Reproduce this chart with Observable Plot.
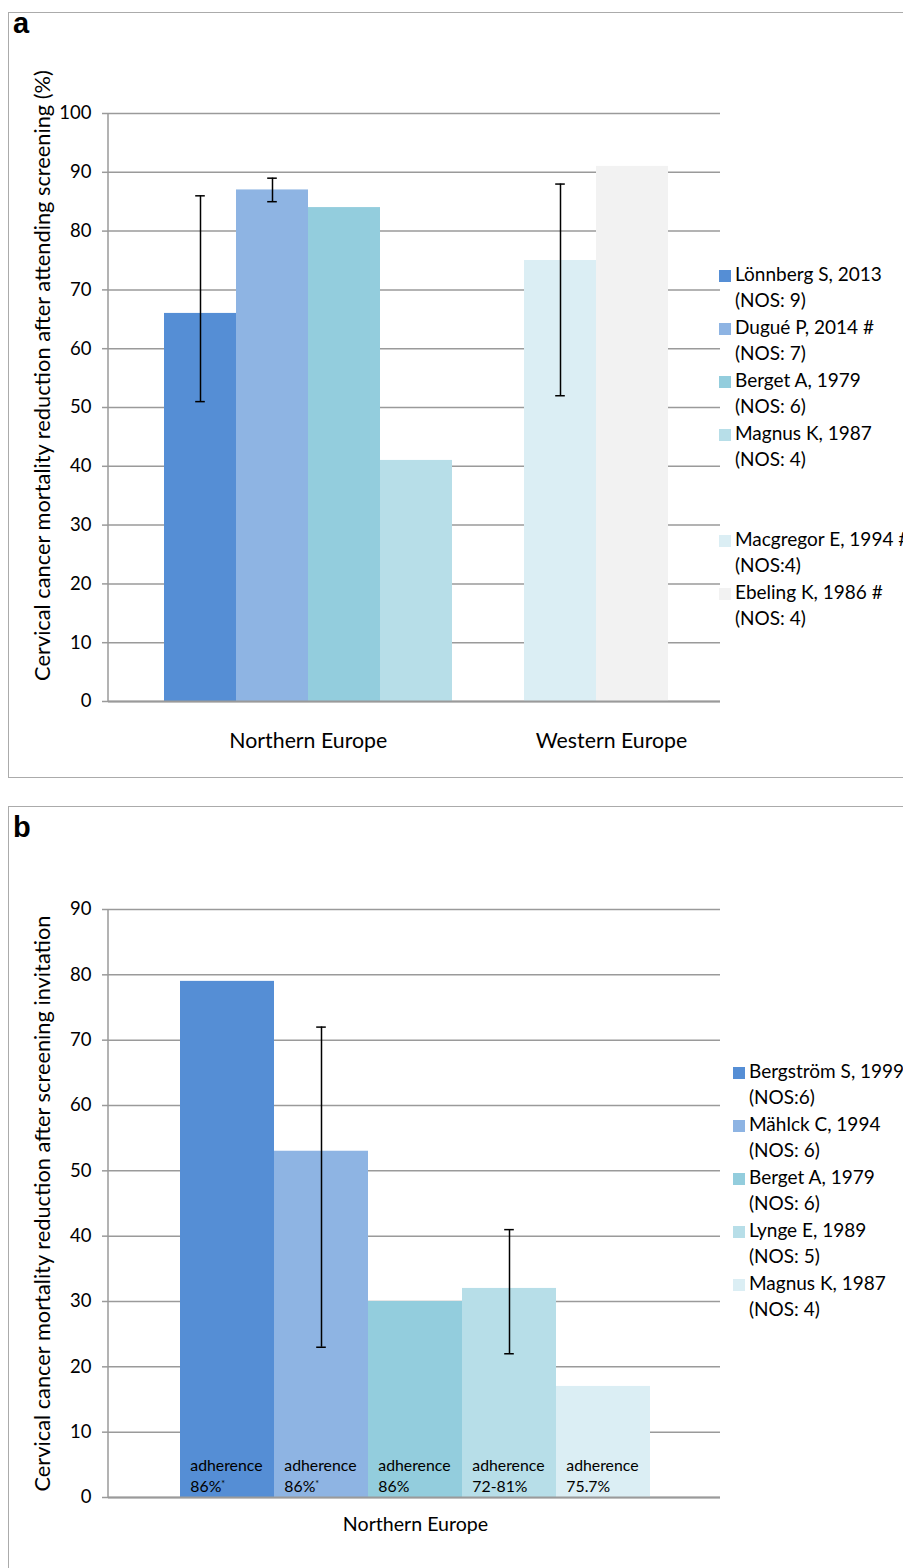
<!DOCTYPE html>
<html>
<head>
<meta charset="utf-8">
<script src="https://cdn.jsdelivr.net/npm/d3@7"></script>
<script src="https://cdn.jsdelivr.net/npm/@observablehq/plot@0.6"></script>
<style>
  body { margin: 0; background: #fff; font-family: Lato, "Open Sans", sans-serif; color: #000; }
  #page { position: relative; width: 903px; height: 1568px; overflow: hidden; background: #fff; }
  .panel { position: absolute; left: 8px; width: 1000px; border: 1px solid #ababab; box-sizing: border-box; }
  .tag { position: absolute; left: 13px; font: bold 29px "Liberation Sans", Arial, sans-serif; line-height: 29px; }
  .chart { position: absolute; left: 0; }
  .legend { position: absolute; font-size: 19px; line-height: 26.5px; white-space: nowrap; }
  .legend .item { position: relative; padding-left: 16px; height: 53px; }
  .legend .sw { position: absolute; left: 0; top: 9px; width: 12px; height: 12px; }
</style>
</head>
<body>
<div id="page">
  <div class="panel" style="top:12px;height:766px"></div>
  <div class="tag" style="top:8.5px">a</div>
  <div class="panel" style="top:806px;height:800px"></div>
  <div class="tag" style="top:812.5px">b</div>
</div>
<script>
// ---------- Panel a data ----------
const studiesA = ["Lönnberg S, 2013", "Dugué P, 2014 #", "Berget A, 1979", "Magnus K, 1987", "Macgregor E, 1994 #", "Ebeling K, 1986 #"];
const nosA = ["(NOS: 9)", "(NOS: 7)", "(NOS: 6)", "(NOS: 4)", "(NOS:4)", "(NOS: 4)"];
const regionA = ["Northern Europe", "Northern Europe", "Northern Europe", "Northern Europe", "Western Europe", "Western Europe"];
const valuesA = [66, 87, 84, 41, 75, 91];
const lowA = [51, 85, null, null, 52, null];
const highA = [86, 89, null, null, 88, null];
const colorsA = ["#558ED5", "#8EB4E3", "#93CDDD", "#B7DEE8", "#DBEEF4", "#F2F2F2"];
const ticksA = [0, 10, 20, 30, 40, 50, 60, 70, 80, 90, 100];
const regionsA = ["Northern Europe", "Western Europe"];
const titleA = "Cervical cancer mortality reduction after attending screening (%)";

// ---------- Panel b data ----------
const studiesB = ["Bergström S, 1999", "Mählck C, 1994", "Berget A, 1979", "Lynge E, 1989", "Magnus K, 1987"];
const nosB = ["(NOS:6)", "(NOS: 6)", "(NOS: 6)", "(NOS: 5)", "(NOS: 4)"];
const valuesB = [79, 53, 30, 32, 17];
const lowB = [null, 23, null, 22, null];
const highB = [null, 72, null, 41, null];
const adherenceB = ["86%", "86%", "86%", "72-81%", "75.7%"];
const starB = [true, true, false, false, false];
const colorsB = ["#558ED5", "#8EB4E3", "#93CDDD", "#B7DEE8", "#DBEEF4"];
const ticksB = [0, 10, 20, 30, 40, 50, 60, 70, 80, 90];
const regionB = "Northern Europe";
const titleB = "Cervical cancer mortality reduction after screening invitation";

const GRID = "#9a9a9a";
const FONT = "Lato, 'Open Sans', sans-serif";
const page = document.getElementById("page");

function addAxisLine(svg, left, top, bottom) {
  d3.select(svg).append("line")
    .attr("x1", left).attr("x2", left).attr("y1", top).attr("y2", bottom)
    .attr("stroke", GRID).attr("stroke-width", 1.5);
}

// ---------- Panel a ----------
{
  const data = studiesA.map((s, i) => ({study: s, region: regionA[i], value: valuesA[i], low: lowA[i], high: highA[i]}));
  const err = data.filter(d => d.low != null);
  const gapKey = " ";
  const domain = [...studiesA.slice(0, 4), gapKey, ...studiesA.slice(4)];
  const W = 720, H = 765, mL = 108, mT = 101, mB = 76;
  const bw = (W - mL) / (domain.length + 2 * 0.727);
  const plot = Plot.plot({
    width: W, height: H, marginLeft: mL, marginRight: 0, marginTop: mT, marginBottom: mB,
    style: {fontFamily: FONT, background: "transparent", overflow: "visible"},
    x: {type: "band", domain, paddingInner: 0, paddingOuter: 0.727, align: 0.523, axis: null},
    y: {domain: [0, 100], axis: null},
    color: {domain: studiesA, range: colorsA},
    marks: [
      Plot.gridY(ticksA, {stroke: GRID, strokeOpacity: 1, strokeWidth: 1.5}),
      Plot.barY(data, {x: "study", y: "value", fill: "study"}),
      Plot.ruleX(err, {x: "study", y1: "low", y2: "high", stroke: "#000", strokeWidth: 1.5}),
      Plot.tickY(err, {x: "study", y: "low", stroke: "#000", strokeWidth: 1.5, insetLeft: (bw - 10) / 2, insetRight: (bw - 10) / 2}),
      Plot.tickY(err, {x: "study", y: "high", stroke: "#000", strokeWidth: 1.5, insetLeft: (bw - 10) / 2, insetRight: (bw - 10) / 2}),
      Plot.axisY(ticksA, {tickSize: 6, tickPadding: 11, fontSize: 18.5, stroke: GRID, strokeWidth: 1.5, label: null}),
      Plot.ruleY([0], {stroke: GRID, strokeWidth: 2}),
      Plot.text([regionsA[0]], {x: () => studiesA[2], frameAnchor: "bottom", dx: -bw / 2, dy: 46, fontSize: 21.3}),
      Plot.text([regionsA[1]], {x: () => studiesA[5], frameAnchor: "bottom", dx: -21, dy: 46, fontSize: 21.3}),
      Plot.text([titleA], {frameAnchor: "left", textAnchor: "middle", rotate: -90, dx: -65, dy: -32, fontSize: 21.8})
    ]
  });
  plot.classList.add("chart");
  plot.style.top = "12px";
  addAxisLine(plot, mL, mT, H - mB);
  page.appendChild(plot);

  const leg = document.createElement("div");
  leg.className = "legend";
  leg.style.left = "719px";
  leg.style.top = (274 - 13.25) + "px";
  const items = [0, 1, 2, 3, null, 4, 5];
  for (const i of items) {
    const it = document.createElement("div");
    it.className = "item";
    if (i != null) {
      it.innerHTML = `<span class="sw" style="background:${colorsA[i]}"></span>${studiesA[i]}<br>${nosA[i]}`;
    }
    leg.appendChild(it);
  }
  page.appendChild(leg);
}

// ---------- Panel b ----------
{
  const data = studiesB.map((s, i) => ({study: s, value: valuesB[i], low: lowB[i], high: highB[i], adh: adherenceB[i], star: starB[i]}));
  const err = data.filter(d => d.low != null);
  const W = 720, H = 762, mL = 108, mT = 103, mB = 71;
  const bw = (W - mL) / (studiesB.length + 2 * 0.742);
  const plot = Plot.plot({
    width: W, height: H, marginLeft: mL, marginRight: 0, marginTop: mT, marginBottom: mB,
    style: {fontFamily: FONT, background: "transparent", overflow: "visible"},
    x: {type: "band", domain: studiesB, paddingInner: 0, paddingOuter: 0.742, align: 0.51, axis: null},
    y: {domain: [0, 90], axis: null},
    color: {domain: studiesB, range: colorsB},
    marks: [
      Plot.gridY(ticksB, {stroke: GRID, strokeOpacity: 1, strokeWidth: 1.5}),
      Plot.barY(data, {x: "study", y: "value", fill: "study"}),
      Plot.ruleX(err, {x: "study", y1: "low", y2: "high", stroke: "#000", strokeWidth: 1.5}),
      Plot.tickY(err, {x: "study", y: "low", stroke: "#000", strokeWidth: 1.5, insetLeft: (bw - 10) / 2, insetRight: (bw - 10) / 2}),
      Plot.tickY(err, {x: "study", y: "high", stroke: "#000", strokeWidth: 1.5, insetLeft: (bw - 10) / 2, insetRight: (bw - 10) / 2}),
      Plot.text(data, {x: "study", y: 0, text: d => "adherence\n" + d.adh, textAnchor: "start", lineAnchor: "bottom", lineHeight: 1.3, dx: -bw / 2 + 10, dy: -6, fontSize: 15.8}),
      Plot.text(data.filter(d => d.star), {x: "study", y: 0, text: () => "*", textAnchor: "start", dx: -bw / 2 + 41, dy: -13, fontSize: 9}),
      Plot.axisY(ticksB, {tickSize: 6, tickPadding: 11, fontSize: 18.5, stroke: GRID, strokeWidth: 1.5, label: null}),
      Plot.ruleY([0], {stroke: GRID, strokeWidth: 2}),
      Plot.text([regionB], {x: () => studiesB[2], frameAnchor: "bottom", dy: 33, fontSize: 19.6}),
      Plot.text([titleB], {frameAnchor: "left", textAnchor: "middle", rotate: -90, dx: -65, dy: 0, fontSize: 21.8})
    ]
  });
  plot.classList.add("chart");
  plot.style.top = "806px";
  addAxisLine(plot, mL, mT, H - mB);
  page.appendChild(plot);

  const leg = document.createElement("div");
  leg.className = "legend";
  leg.style.left = "733px";
  leg.style.top = (1071 - 13.25) + "px";
  studiesB.forEach((s, i) => {
    const it = document.createElement("div");
    it.className = "item";
    it.innerHTML = `<span class="sw" style="background:${colorsB[i]}"></span>${s}<br>${nosB[i]}`;
    leg.appendChild(it);
  });
  page.appendChild(leg);
}
</script>
</body>
</html>
